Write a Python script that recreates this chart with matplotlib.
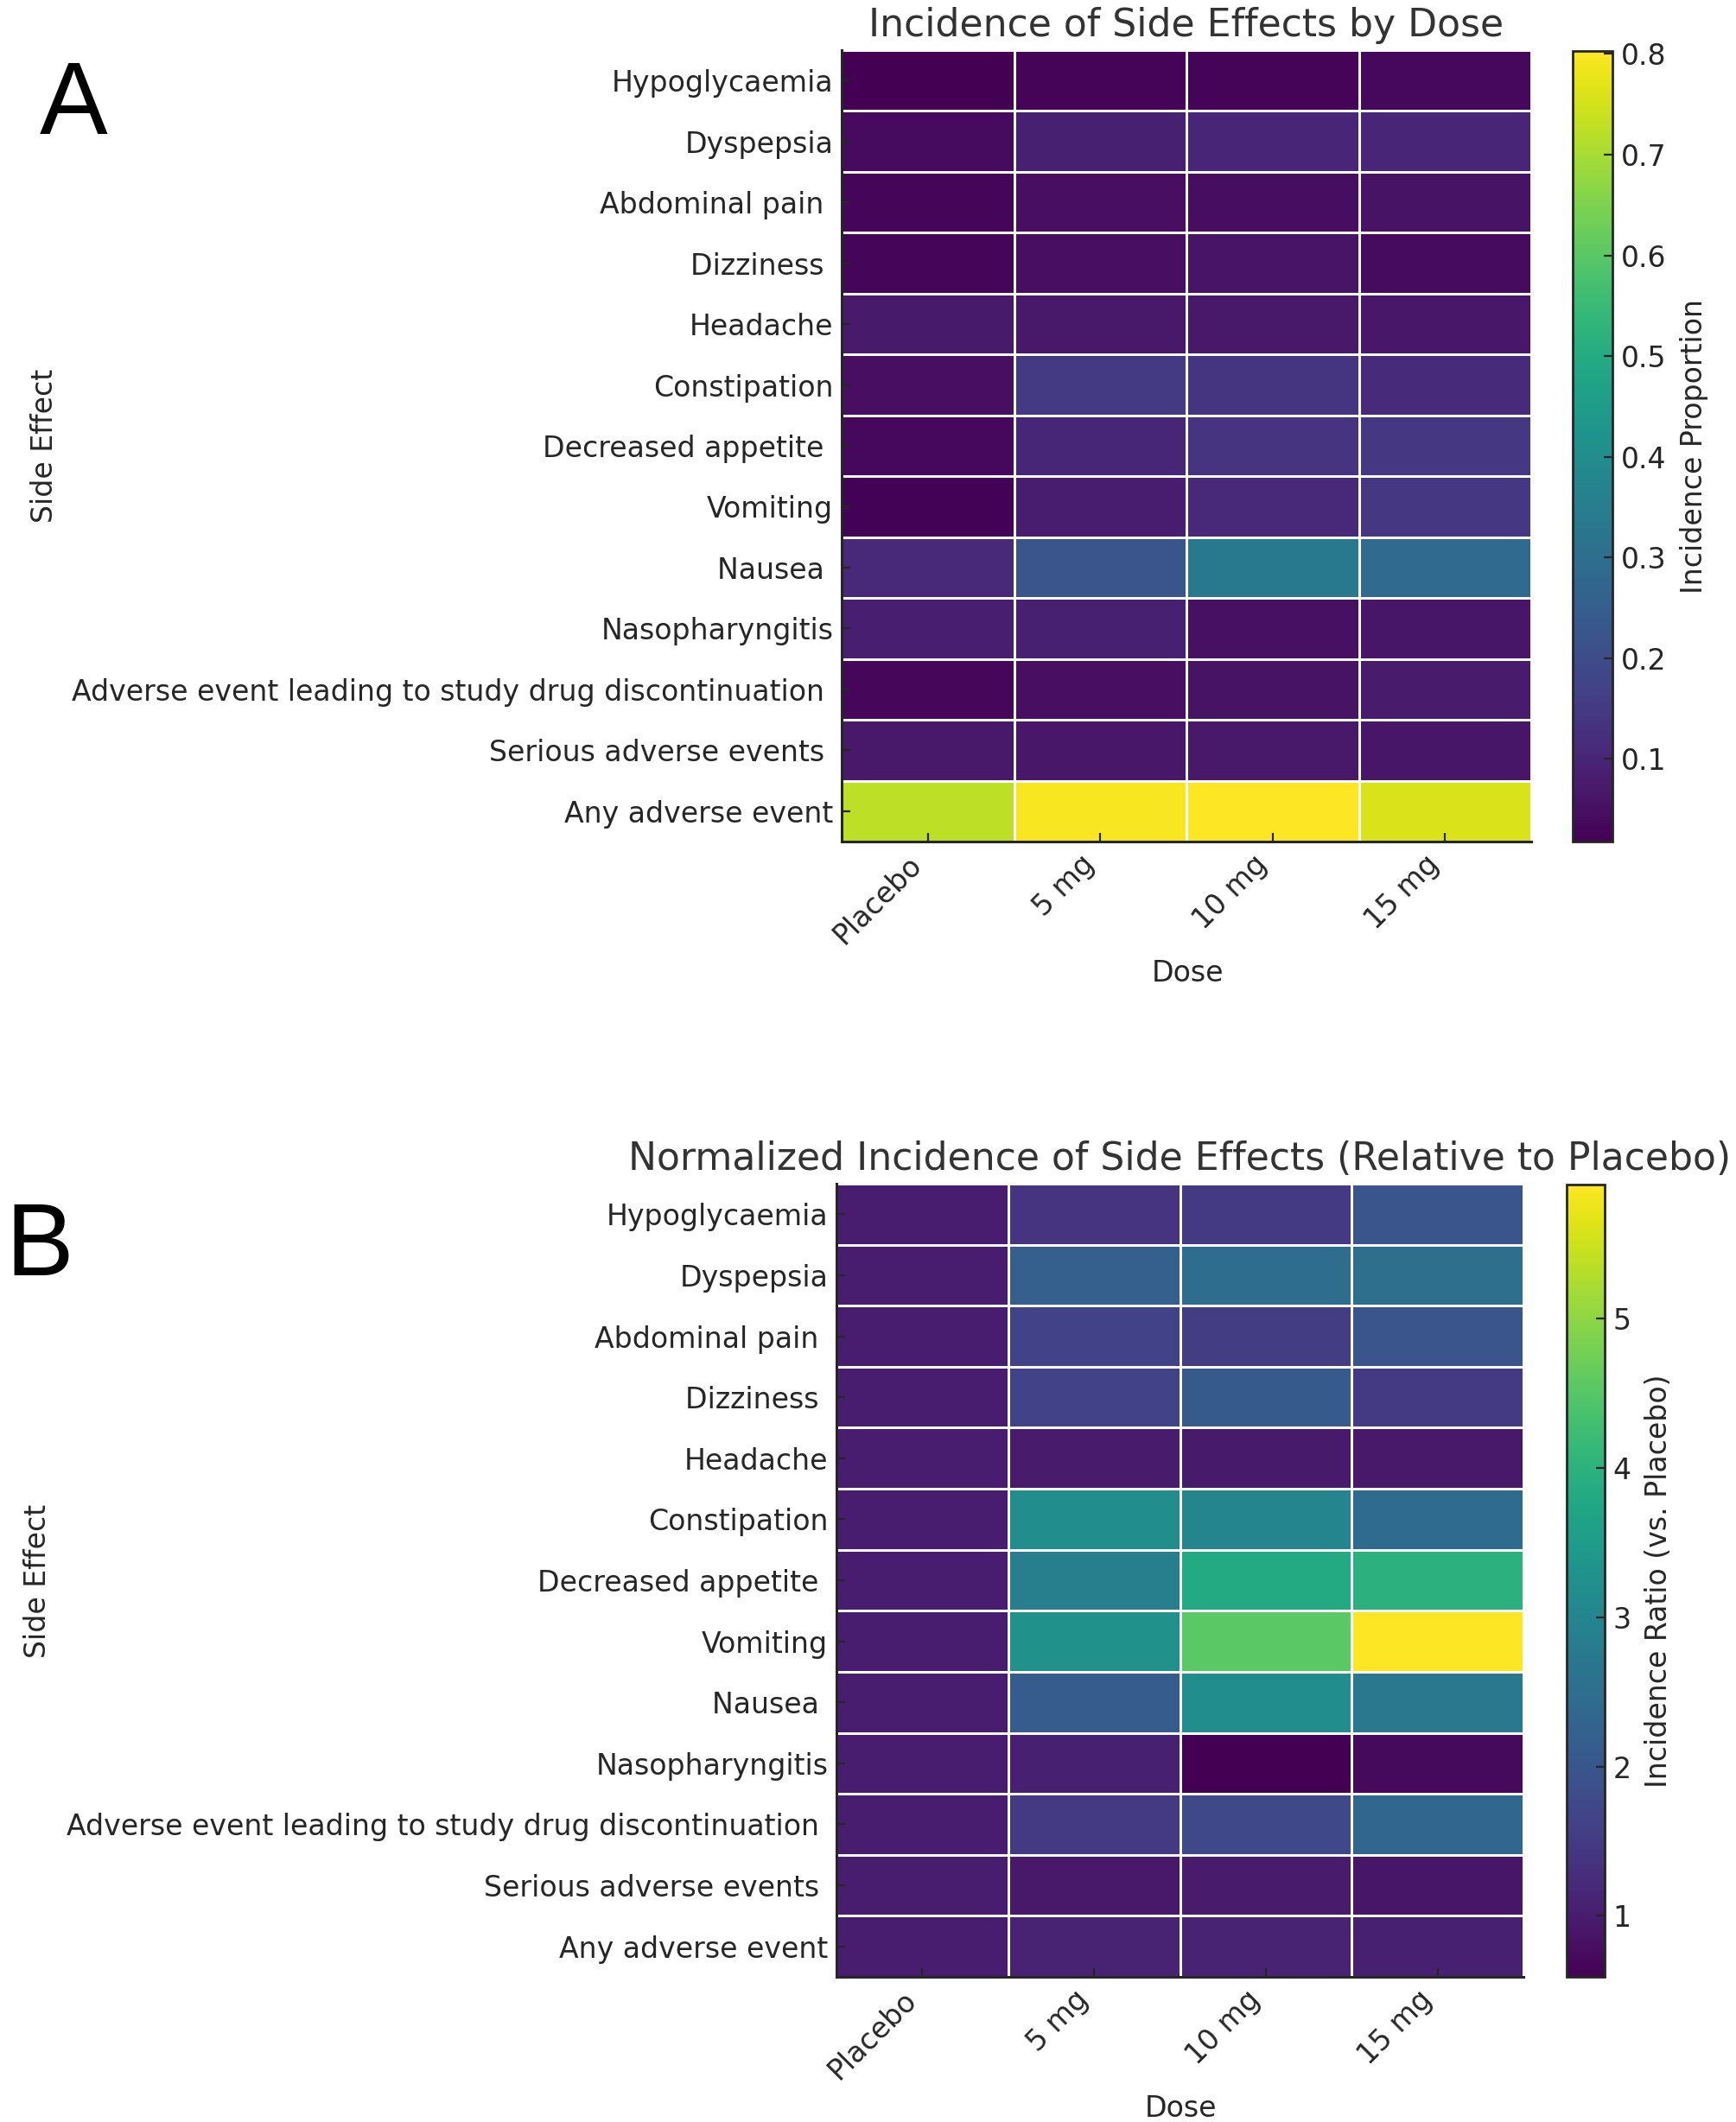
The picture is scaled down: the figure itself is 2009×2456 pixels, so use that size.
import numpy as np
import matplotlib
matplotlib.use("Agg")
import matplotlib.pyplot as plt

# ---------------- data ----------------
side_effects = [
    "Hypoglycaemia",
    "Dyspepsia",
    "Abdominal pain ",
    "Dizziness ",
    "Headache",
    "Constipation",
    "Decreased appetite ",
    "Vomiting",
    "Nausea ",
    "Nasopharyngitis",
    "Adverse event leading to study drug discontinuation ",
    "Serious adverse events ",
    "Any adverse event",
]
doses = ["Placebo", "5 mg", "10 mg", "15 mg"]

placebo = [0.018, 0.040, 0.028, 0.028, 0.071, 0.046, 0.036, 0.024, 0.105, 0.083, 0.032, 0.070, 0.725]
dose_5mg = [0.025, 0.087, 0.046, 0.046, 0.069, 0.147, 0.103, 0.078, 0.222, 0.088, 0.047, 0.066, 0.795]
dose_10mg = [0.027, 0.099, 0.043, 0.058, 0.068, 0.138, 0.137, 0.109, 0.334, 0.049, 0.056, 0.068, 0.803]
dose_15mg = [0.036, 0.100, 0.056, 0.041, 0.066, 0.112, 0.143, 0.1416, 0.285, 0.061, 0.075, 0.063, 0.760]

incidence = np.column_stack([placebo, dose_5mg, dose_10mg, dose_15mg])
ratio = incidence / incidence[:, [0]]  # relative to placebo

# ---------------- figure ----------------
W, H = 2009, 2456
fig = plt.figure(figsize=(W / 100, H / 100), dpi=100)
fig.patch.set_facecolor("white")

TICK_FS = 23.9
TITLE_FS = 31.8
TXT = "#262626"
TITLE_C = "#333333"


def px_rect(left, top, right, bottom):
    return [left / W, (H - bottom) / H, (right - left) / W, (bottom - top) / H]


def draw_panel(ax_rect, cb_rect, data, title, cbar_label, cb_ticks, xlabel_pos, ylabel_pos):
    ax = fig.add_axes(px_rect(*ax_rect))
    cax = fig.add_axes(px_rect(*cb_rect))
    x_edges = np.arange(len(doses) + 1)
    y_edges = np.arange(len(side_effects) + 1)
    mesh = ax.pcolormesh(x_edges, y_edges, data, cmap="viridis",
                         edgecolors="white", linewidth=1.0)
    ax.set_xlim(0, len(doses))
    ax.set_ylim(len(side_effects), 0)
    ax.set_xticks(np.arange(len(doses)) + 0.5)
    ax.set_xticklabels(doses, rotation=45, ha="right", rotation_mode="default")
    ax.set_yticks(np.arange(len(side_effects)) + 0.5)
    ax.set_yticklabels(side_effects)
    ax.tick_params(direction="in", length=7, width=1.6, colors=TXT,
                   labelsize=TICK_FS, pad=7)
    for s in ["top", "right"]:
        ax.spines[s].set_visible(False)
    for s in ["left", "bottom"]:
        ax.spines[s].set_linewidth(2.2)
        ax.spines[s].set_color(TXT)
    ax.set_title(title, fontsize=TITLE_FS, color=TITLE_C, pad=11.5)

    fig.text(xlabel_pos[0] / W, 1 - xlabel_pos[1] / H, "Dose",
             fontsize=TICK_FS, color=TXT, ha="center", va="center")
    fig.text(ylabel_pos[0] / W, 1 - ylabel_pos[1] / H, "Side Effect",
             fontsize=TICK_FS, color=TXT, ha="center", va="center", rotation=90)

    cb = fig.colorbar(mesh, cax=cax)
    cb.set_ticks(cb_ticks)
    cb.ax.tick_params(direction="in", length=7, width=1.6, colors=TXT,
                      labelsize=TICK_FS, pad=7)
    cb.outline.set_linewidth(2.0)
    cb.outline.set_edgecolor(TXT)
    cb.set_label(cbar_label, fontsize=TICK_FS, color=TXT, labelpad=11)
    return ax


draw_panel((974, 58, 1772, 974), (1820, 59, 1866, 974), incidence,
           "Incidence of Side Effects by Dose", "Incidence Proportion",
           [0.1, 0.2, 0.3, 0.4, 0.5, 0.6, 0.7, 0.8],
           (1375, 1127), (52, 516))

draw_panel((968, 1370, 1763, 2288), (1813, 1371, 1857, 2288), ratio,
           "Normalized Incidence of Side Effects (Relative to Placebo)",
           "Incidence Ratio (vs. Placebo)", [1, 2, 3, 4, 5],
           (1366, 2441), (44, 1830))

fig.text(46 / W, 1 - 155 / H, "A", fontsize=85, family="Liberation Sans",
         color="black", ha="left", va="baseline")
fig.text(6 / W, 1 - 1476 / H, "B", fontsize=85, family="Liberation Sans",
         color="black", ha="left", va="baseline")

fig.savefig("out.png", dpi=100, facecolor="white")
